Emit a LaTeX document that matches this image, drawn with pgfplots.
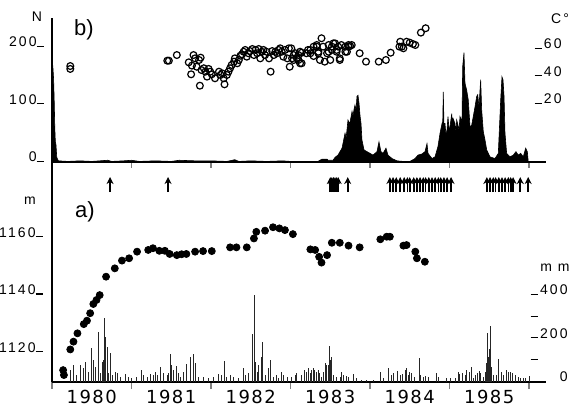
\documentclass[border=0pt]{standalone}
\usepackage{fontspec}
\setmainfont{Liberation Sans}
\newfontfamily\lsfont[LetterSpace=15]{Liberation Sans}
\newfontfamily\yrfont[LetterSpace=8]{DejaVu Sans}
\usepackage{pgfplots}
\pgfplotsset{compat=1.18}
\usetikzlibrary{arrows.meta}

\newcommand{\tk}{\rule{3.5pt}{0.6pt}}
\newcommand{\tickfont}{\lsfont\fontsize{7}{8}\selectfont}

\begin{document}
\begin{tikzpicture}[x=1pt,y=1pt]
\useasboundingbox (0,0) rectangle (288,202.5);
\pgfplotsset{
  panel/.style={scale only axis, width=247pt, xmin=1980, xmax=1986.214,
    anchor=south west, /pgf/number format/assume math mode=true,
    axis line style={line width=0.75pt}},
  lefty/.style={axis y line*=left, ytick style={draw=none},
    yticklabel style={font=\tickfont, anchor=base east, inner sep=0pt, xshift=-1pt}},
  righty/.style={axis x line=none, axis y line*=right, y axis line style={draw=none},
    ytick style={draw=none},
    yticklabel style={font=\tickfont, anchor=base east, inner sep=0pt, xshift=#1}},
}

% ---- b) top panel: daily number of events N
\begin{axis}[panel, lefty, at={(26pt,121.5pt)}, height=72pt, ymin=0, ymax=250.4,
  axis x line*=bottom,
  xtick={1981,...,1986}, xticklabels={}, tick align=outside, major tick length=3pt,
  x tick style={line width=0.6pt},
  ytick={0,100,200}, yticklabels={0\tk,100\tk,200\tk}]
\addplot[fill=black, draw=black, line width=0.3pt] table {
1980.00 0
1980.003 155
1980.012 163
1980.02 145
1980.028 105
1980.035 60
1980.042 35
1980.05 30
1980.06 8
1980.08 2
1980.2 1
1980.35 2
1980.5 1
1980.7 3
1980.75 1
1980.9 2
1981.0 3
1981.1 1
1981.3 2
1981.5 1
1981.6 3
1981.8 2
1982.0 2
1982.2 1
1982.3 4
1982.35 1
1982.5 2
1982.7 1
1982.9 2
1983.0 1
1983.119 1
1983.346 1
1983.396 5
1983.46 5
1983.472 3
1983.535 3
1983.560 8
1983.597 12
1983.648 24
1983.686 50
1983.700 42
1983.723 73
1983.745 66
1983.774 88
1983.786 80
1983.800 92
1983.811 99
1983.825 90
1983.836 114
1983.849 116
1983.862 102
1983.875 80
1983.887 67
1983.899 38
1983.925 21
1983.962 18
1984.000 15
1984.038 12
1984.088 18
1984.113 35
1984.138 18
1984.164 15
1984.201 24
1984.226 12
1984.277 6
1984.340 2
1984.415 1
1984.503 1
1984.566 6
1984.604 12
1984.654 14
1984.692 18
1984.717 32
1984.730 15
1984.780 6
1984.818 9
1984.855 27
1984.881 50
1984.906 67
1984.915 70
1984.922 122
1984.930 67
1984.943 67
1984.955 48
1984.969 56
1984.981 79
1984.995 55
1985.006 61
1985.028 84
1985.036 62
1985.044 76
1985.069 67
1985.080 52
1985.091 73
1985.107 64
1985.120 55
1985.132 79
1985.157 70
1985.166 166
1985.182 190
1985.195 137
1985.216 125
1985.236 108
1985.258 61
1985.279 64
1985.299 79
1985.321 96
1985.342 114
1985.355 117
1985.371 96
1985.392 143
1985.405 90
1985.425 53
1985.447 38
1985.468 21
1985.509 9
1985.572 6
1985.614 15
1985.644 108
1985.660 148
1985.673 143
1985.686 114
1985.698 50
1985.719 15
1985.761 9
1985.803 12
1985.836 18
1985.865 12
1985.895 15
1985.928 9
1985.958 24
1985.979 18
1985.991 0
} \closedcycle;
\end{axis}

% ---- b) top panel: temperature C
\begin{axis}[panel, righty=8pt, at={(26pt,121.5pt)}, height=72pt,
  ymin=-22.18, ymax=82.55,
  ytick={20,40,60}, yticklabels={\tk\,20,\tk\,40,\tk\,60}]
\addplot[only marks, mark=o, mark size=1.7pt, mark options={line width=0.6pt}] table {
1980.23 47.6
1980.23 45.5
1981.45 51.5
1981.47 51.5
1981.57 55.6
1981.72 50.3
1981.78 55.6
1981.80 53.2
1981.85 52.0
1981.87 53.7
1981.76 47.9
1981.82 47.1
1981.75 41.6
1981.88 44.7
1981.91 46.0
1981.93 43.5
1981.95 39.9
1981.97 45.5
1981.99 43.5
1982.01 41.6
1982.05 38.7
1981.86 33.3
1982.10 43.5
1982.12 41.1
1982.14 42.3
1982.16 38.7
1982.17 34.3
1982.20 41.1
1982.22 43.5
1982.24 46.0
1982.26 48.4
1982.29 50.8
1982.30 53.2
1982.33 49.6
1982.35 52.0
1982.37 55.1
1982.39 56.1
1982.41 58.0
1982.43 59.3
1982.45 54.4
1982.47 56.9
1982.49 58.5
1982.52 60.0
1982.54 55.6
1982.56 59.3
1982.58 56.9
1982.60 60.0
1982.62 53.2
1982.64 58.0
1982.66 59.3
1982.68 55.6
1982.70 58.0
1982.73 53.2
1982.75 43.5
1982.77 58.5
1982.79 55.6
1982.81 58.0
1982.83 56.9
1982.85 59.3
1982.87 60.5
1982.89 58.0
1982.91 54.4
1982.93 59.3
1982.96 53.2
1982.98 60.5
1982.99 47.1
1983.02 53.2
1983.04 55.6
1983.06 56.9
1983.08 53.2
1983.10 55.6
1983.12 58.0
1983.14 49.6
1983.01 60.5
1983.04 52.0
1983.10 52.0
1983.12 49.6
1983.14 57.3
1983.20 56.9
1983.22 59.3
1983.25 59.3
1983.25 56.9
1983.29 61.7
1983.29 54.9
1983.33 62.9
1983.33 61.7
1983.35 56.9
1983.35 58.0
1983.37 52.0
1983.39 67.8
1983.41 61.7
1983.43 50.8
1983.46 56.9
1983.48 62.9
1983.48 58.0
1983.50 52.0
1983.52 59.3
1983.52 61.7
1983.54 64.1
1983.56 64.1
1983.58 58.0
1983.58 59.3
1983.60 61.7
1983.62 53.2
1983.62 52.0
1983.64 62.9
1983.69 61.7
1983.69 58.0
1983.71 58.0
1983.73 62.9
1983.73 61.7
1983.75 62.2
1983.77 62.9
1983.87 56.9
1983.95 50.8
1984.11 50.8
1984.20 52.0
1984.26 57.3
1984.37 61.7
1984.38 65.3
1984.40 61.7
1984.42 60.5
1984.46 65.3
1984.50 64.6
1984.54 63.6
1984.57 62.9
1984.64 71.9
1984.70 75.1
};
\end{axis}

% ---- a) bottom panel: level m
\begin{axis}[panel, lefty, at={(26pt,11.5pt)}, height=110pt,
  ymin=1109.57, ymax=1186.09, axis x line*=bottom,
  xtick={1980,...,1986}, xticklabels={}, tick align=outside, major tick length=3.5pt,
  x tick style={line width=0.6pt},
  extra x ticks={1980.5,1981.5,1982.5,1983.5,1984.5,1985.5},
  extra x tick labels={1980,1981,1982,1983,1984,1985},
  extra x tick style={major tick length=0pt,
    xticklabel style={font=\yrfont\fontsize{9}{10}\selectfont, anchor=base, inner sep=0pt, yshift=-10.5pt}},
  ytick={1120,1140,1160}, yticklabels={1120\tk,1140\tk,1160\tk}]
\addplot[only marks, mark=*, mark size=1.75pt] table {
1980.14 1113.7
1980.15 1112.0
1980.23 1120.9
1980.27 1123.6
1980.32 1126.5
1980.40 1129.7
1980.44 1130.9
1980.48 1133.5
1980.52 1136.7
1980.56 1138.1
1980.60 1139.8
1980.68 1146.2
1980.79 1149.1
1980.88 1151.8
1980.97 1152.6
1981.07 1154.9
1981.21 1155.5
1981.27 1156.1
1981.35 1155.2
1981.42 1155.2
1981.48 1154.1
1981.57 1153.7
1981.63 1154.0
1981.69 1154.1
1981.80 1154.9
1981.90 1155.1
1982.01 1155.1
1982.24 1156.4
1982.32 1156.4
1982.45 1156.4
1982.54 1159.5
1982.57 1161.8
1982.68 1162.2
1982.78 1163.4
1982.86 1163.0
1982.93 1162.4
1983.03 1161.0
1983.25 1155.7
1983.31 1155.5
1983.36 1153.1
1983.39 1151.1
1983.46 1153.7
1983.52 1158.0
1983.62 1158.0
1983.73 1157.0
1983.87 1156.4
1984.13 1159.2
1984.21 1160.1
1984.25 1160.1
1984.42 1157.0
1984.46 1157.2
1984.57 1154.9
1984.59 1152.6
1984.69 1151.4
};
% event arrows
\addplot[black, line width=0.8pt, -{Stealth[length=3.5pt,width=3.5pt]},
  quiver={u=0,v=5.2}] table {
1980.73 1175.65
1981.46 1175.65
1983.50 1175.65
1983.52 1175.65
1983.54 1175.65
1983.56 1175.65
1983.58 1175.65
1983.60 1175.65
1983.72 1175.65
1984.25 1175.65
1984.29 1175.65
1984.33 1175.65
1984.38 1175.65
1984.43 1175.65
1984.47 1175.65
1984.50 1175.65
1984.55 1175.65
1984.59 1175.65
1984.63 1175.65
1984.67 1175.65
1984.70 1175.65
1984.74 1175.65
1984.78 1175.65
1984.82 1175.65
1984.86 1175.65
1984.89 1175.65
1984.93 1175.65
1984.97 1175.65
1985.02 1175.65
1985.47 1175.65
1985.51 1175.65
1985.55 1175.65
1985.58 1175.65
1985.62 1175.65
1985.66 1175.65
1985.70 1175.65
1985.74 1175.65
1985.77 1175.65
1985.80 1175.65
1985.89 1175.65
1985.99 1175.65
};
\end{axis}

% ---- a) bottom panel: precipitation mm
\begin{axis}[panel, righty=11pt, at={(26pt,11.5pt)}, height=110pt,
  ymin=0, ymax=1011.5,
  ytick={0,100,200,300,400},
  yticklabels={0,\tk\hphantom{\,400},\tk\,200,\tk\hphantom{\,400},\tk\,400}]
\addplot[ycomb, black!85, line width=0.5pt] table {
1980.231 55
1980.273 78
1980.314 32
1980.356 78
1980.398 63
1980.419 93
1980.461 48
1980.495 155
1980.524 101
1980.545 71
1980.579 231
1980.608 40
1980.629 93
1980.650 101
1980.662 293
1980.679 208
1980.692 162
1980.713 40
1980.734 132
1980.763 32
1980.797 48
1980.818 40
1980.860 25
1980.922 35
1980.964 25
1981.006 20
1981.069 25
1981.124 55
1981.153 32
1981.195 25
1981.237 35
1981.279 32
1981.300 48
1981.321 32
1981.363 71
1981.405 40
1981.447 32
1981.468 40
1981.488 127
1981.509 78
1981.530 55
1981.560 75
1981.585 40
1981.614 25
1981.656 44
1981.690 81
1981.740 116
1981.774 127
1981.803 86
1981.845 25
1981.908 25
1981.971 20
1982.034 25
1982.096 35
1982.138 32
1982.172 98
1982.201 25
1982.243 32
1982.285 25
1982.348 20
1982.411 66
1982.440 32
1982.474 40
1982.528 219
1982.541 400
1982.558 93
1982.579 48
1982.600 78
1982.629 116
1982.650 185
1982.683 32
1982.725 66
1982.746 101
1982.788 25
1982.830 32
1982.851 20
1982.893 48
1982.914 32
1982.956 25
1983.015 25
1983.061 32
1983.078 40
1983.141 32
1983.170 55
1983.204 48
1983.225 63
1983.246 40
1983.267 55
1983.288 63
1983.308 55
1983.329 48
1983.350 55
1983.371 40
1983.392 25
1983.413 48
1983.434 86
1983.455 78
1983.476 78
1983.489 165
1983.506 100
1983.518 116
1983.539 32
1983.581 25
1983.623 25
1983.644 44
1983.665 32
1983.707 29
1983.728 25
1983.791 35
1983.833 17
1983.895 9
1983.958 9
1984.042 9
1984.126 44
1984.168 20
1984.231 66
1984.273 32
1984.294 40
1984.344 51
1984.378 32
1984.411 35
1984.441 55
1984.462 63
1984.483 32
1984.503 48
1984.524 40
1984.566 25
1984.621 109
1984.638 32
1984.671 25
1984.692 29
1984.734 25
1984.839 40
1984.860 25
1984.965 20
1985.007 17
1985.070 20
1985.111 48
1985.132 35
1985.166 40
1985.195 32
1985.216 55
1985.250 48
1985.279 71
1985.300 20
1985.321 32
1985.350 40
1985.376 51
1985.392 40
1985.426 25
1985.447 44
1985.468 86
1985.476 224
1985.489 116
1985.501 150
1985.510 120
1985.518 258
1985.531 71
1985.552 32
1985.585 32
1985.615 104
1985.657 48
1985.678 32
1985.719 55
1985.740 48
1985.761 44
1985.795 40
1985.824 32
1985.866 25
1985.887 20
1985.929 17
1985.950 17
1986.005 28
};
\end{axis}

\node[font=\tickfont] at (18.5,194) {N};
\node[font=\fontsize{11}{12}\selectfont] at (42,187.5) {b)};
\node[font=\tickfont] at (280,193) {C°};
\node[font=\tickfont] at (15,102) {m};
\node[font=\fontsize{11}{12}\selectfont] at (42.5,96.5) {a)};
\node[font=\tickfont] at (277.5,68.5) {m m};
\end{tikzpicture}
\end{document}
